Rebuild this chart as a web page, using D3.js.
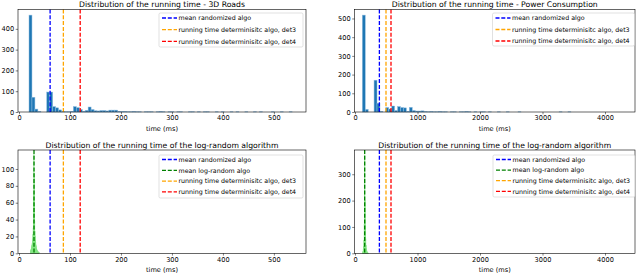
<!DOCTYPE html>
<html>
<head>
<meta charset="utf-8">
<script src="https://cdn.jsdelivr.net/npm/d3@7.9.0/dist/d3.min.js"></script>
<style>
  body { margin: 0; background: #fff; }
  svg { display: block; font-family: "DejaVu Sans", sans-serif; }
</style>
</head>
<body>
<svg id="chart" width="640" height="273"></svg>
<script>
// histogram data (bin start, bin width, counts)
const roadsStart = 19.6, roadsWidth = 5.8;
const roadsCounts = [466, 71, 14, 2, 0, 0, 96, 96, 26, 20, 10, 3, 1, 1, 3, 26, 21, 12, 3, 8,
  24, 12, 6, 5, 7, 7, 5, 9, 9, 9, 3, 2, 2, 1, 1, 2, 1, 1, 0, 1, 1, 1, 0, 1, 2, 1, 0, 1, 1, 0,
  1, 1, 0, 0, 1, 1, 0, 1, 0, 1, 1, 0, 0, 1, 0, 1, 0, 0, 1, 0, 1, 0, 0, 1, 0, 0, 1, 0, 1, 0,
  0, 0, 1, 0, 0, 1, 0, 0, 1];

const powerStart = 117, powerWidth = 47;
const powerCounts = [518, 14, 0, 0, 170, 47, 3, 0, 24, 16, 32, 8, 29, 24, 22, 4, 25, 8, 5, 5,
  6, 2, 1, 2, 1, 1, 2, 1, 1, 0, 1, 1, 0, 1, 1, 2, 1, 0, 1, 0, 1, 1, 0, 1, 0, 0, 1, 0, 0, 1,
  0, 0, 0, 1, 0, 0, 0, 0, 0, 0, 0, 0, 0, 0, 0, 0, 0, 1, 0, 0, 1];

const logRoadsStart = 22, logRoadsWidth = 0.5;
const logRoadsCounts = [2, 3, 4, 5, 6, 8, 10, 12, 14, 17, 22, 30, 45, 70, 117, 95, 60, 38, 26, 20,
  16, 13, 10, 8, 6, 5, 4, 3, 3, 2, 2, 1, 1, 1, 1];

const logPowerStart = 120, logPowerWidth = 5;
const logPowerCounts = [3, 8, 14, 25, 50, 110, 230, 373, 200, 105, 55, 30, 18, 10, 6, 4, 2, 1, 1];

// vertical reference lines (ms)
const roadsMarks = { rand: 61, log: 29.4, det3: 87, det4: 120 };
const powerMarks = { rand: 390, log: 155, det3: 496, det4: 576 };

const roadsXTicks = [0, 100, 200, 300, 400, 500];
const powerXTicks = [0, 1000, 2000, 3000, 4000];

const legendTop = ["mean randomized algo", "running time determinisitc algo, det3", "running time determinisitc algo, det4"];
const legendBottom = ["mean randomized algo", "mean log-random algo", "running time determinisitc algo, det3", "running time determinisitc algo, det4"];

const colors = { rand: "#0000ff", log: "#008000", det3: "#ffa500", det4: "#ff0000" };

const svg = d3.select("#chart");

function toBins(start, width, counts) {
  return counts.map((c, i) => ({ x0: start + i * width, x1: start + (i + 1) * width, n: c }));
}

function drawPanel(p) {
  const x = d3.scaleLinear().domain(p.xDomain).range([p.left, p.right]);
  const y = d3.scaleLinear().domain(p.yDomain).range([p.bottom, p.top]);
  const g = svg.append("g");

  g.append("g")
    .selectAll("rect")
    .data(toBins(p.start, p.width, p.counts).filter(d => d.n > 0))
    .join("rect")
    .attr("x", d => x(d.x0))
    .attr("width", d => Math.max(0.3, x(d.x1) - x(d.x0)))
    .attr("y", d => y(d.n))
    .attr("height", d => y(0) - y(d.n))
    .attr("fill", p.fill)
    .attr("stroke", p.edge)
    .attr("stroke-width", 0.5);

  p.marks.forEach(k => {
    g.append("line")
      .attr("x1", x(p.markValues[k])).attr("x2", x(p.markValues[k]))
      .attr("y1", p.top).attr("y2", p.bottom)
      .attr("stroke", colors[k])
      .attr("stroke-width", 1.3)
      .attr("stroke-dasharray", "4,1.8");
  });

  // axes
  const xAxis = g.append("g")
    .attr("transform", `translate(0,${p.bottom})`)
    .call(d3.axisBottom(x).tickValues(p.xTicks).tickSize(2.3).tickPadding(1.5).tickFormat(d3.format("d")));
  const yAxis = g.append("g")
    .attr("transform", `translate(${p.left},0)`)
    .call(d3.axisLeft(y).tickValues(p.yTicks).tickSize(2.3).tickPadding(1.5).tickFormat(d3.format("d")));
  [xAxis, yAxis].forEach(a => {
    a.select(".domain").remove();
    a.selectAll("text").attr("font-size", 6.6).attr("fill", "#000").attr("font-family", "DejaVu Sans");
    a.selectAll("line").attr("stroke", "#000").attr("stroke-width", 0.5);
  });

  g.append("rect")
    .attr("x", p.left).attr("y", p.top)
    .attr("width", p.right - p.left).attr("height", p.bottom - p.top)
    .attr("fill", "none").attr("stroke", "#000").attr("stroke-width", 0.6);

  g.append("text")
    .attr("x", (p.left + p.right) / 2).attr("y", p.top - 2.5)
    .attr("text-anchor", "middle").attr("font-size", 7.7)
    .text(p.title);

  g.append("text")
    .attr("x", (p.left + p.right) / 2).attr("y", p.bottom + 18.5)
    .attr("text-anchor", "middle").attr("font-size", 6.6)
    .text("time (ms)");

  // legend
  const lg = g.append("g").attr("transform", `translate(${p.legend.x},${p.legend.y})`);
  lg.append("rect")
    .attr("width", p.legend.w).attr("height", p.legend.h)
    .attr("rx", 1.5)
    .attr("fill", "#fff").attr("fill-opacity", 0.8)
    .attr("stroke", "#cccccc").attr("stroke-width", 0.6);
  p.legend.items.forEach((label, i) => {
    const yy = p.legend.first + i * p.legend.step;
    const k = p.legend.keys[i];
    lg.append("line")
      .attr("x1", 3).attr("x2", 18).attr("y1", yy).attr("y2", yy)
      .attr("stroke", colors[k]).attr("stroke-width", 1.3)
      .attr("stroke-dasharray", "4,1.8");
    lg.append("text")
      .attr("x", 19.5).attr("y", yy + 2.2)
      .attr("font-size", 6.3)
      .text(label);
  });
}

const blueFill = "#1f77b4", blueEdge = "#8dbbe0";
const greenFill = "#3fcf3f", greenEdge = "#8fe88f";

drawPanel({
  left: 18, right: 306, top: 9.5, bottom: 112,
  xDomain: [-2, 563], yDomain: [0, 493],
  xTicks: roadsXTicks, yTicks: [0, 100, 200, 300, 400],
  start: roadsStart, width: roadsWidth, counts: roadsCounts,
  fill: blueFill, edge: blueEdge,
  markValues: roadsMarks, marks: ["rand", "det3", "det4"],
  title: "Distribution of the running time - 3D Roads",
  legend: { x: 159, y: 13, w: 144, h: 34, first: 5, step: 11.7, items: legendTop, keys: ["rand", "det3", "det4"] }
});

drawPanel({
  left: 354.5, right: 635, top: 9.5, bottom: 112,
  xDomain: [-8, 4480], yDomain: [0, 548],
  xTicks: powerXTicks, yTicks: [0, 100, 200, 300, 400, 500],
  start: powerStart, width: powerWidth, counts: powerCounts,
  fill: blueFill, edge: blueEdge,
  markValues: powerMarks, marks: ["rand", "det3", "det4"],
  title: "Distribution of the running time - Power Consumption",
  legend: { x: 492.5, y: 13, w: 142, h: 33, first: 5, step: 11.5, items: legendTop, keys: ["rand", "det3", "det4"] }
});

drawPanel({
  left: 18, right: 306, top: 150, bottom: 253.3,
  xDomain: [-2, 563], yDomain: [0, 122.5],
  xTicks: roadsXTicks, yTicks: [0, 20, 40, 60, 80, 100],
  start: logRoadsStart, width: logRoadsWidth, counts: logRoadsCounts,
  fill: greenFill, edge: greenEdge,
  markValues: roadsMarks, marks: ["log", "rand", "det3", "det4"],
  title: "Distribution of the running time of the log-random algorithm",
  legend: { x: 159, y: 155, w: 144, h: 43, first: 4.5, step: 10.8, items: legendBottom, keys: ["rand", "log", "det3", "det4"] }
});

drawPanel({
  left: 354.5, right: 635, top: 150, bottom: 253.3,
  xDomain: [-8, 4480], yDomain: [0, 392],
  xTicks: powerXTicks, yTicks: [0, 100, 200, 300],
  start: logPowerStart, width: logPowerWidth, counts: logPowerCounts,
  fill: greenFill, edge: greenEdge,
  markValues: powerMarks, marks: ["log", "rand", "det3", "det4"],
  title: "Distribution of the running time of the log-random algorithm",
  legend: { x: 493, y: 155, w: 142, h: 42, first: 4.5, step: 10.6, items: legendBottom, keys: ["rand", "log", "det3", "det4"] }
});
</script>
</body>
</html>
